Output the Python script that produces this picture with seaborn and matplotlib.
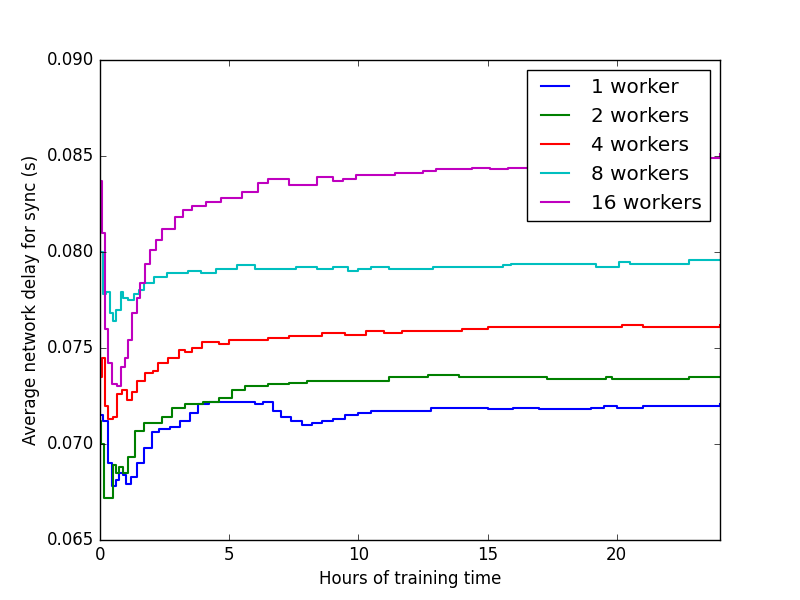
import numpy as np
import pandas as pd
import seaborn as sns
import matplotlib
matplotlib.use("Agg")
import matplotlib.pyplot as plt

# hours of training time vs average network delay
hours_1 = [0, 0.1, 0.3, 0.45, 0.6, 0.75, 0.9, 1.0, 1.2, 1.45, 1.7, 2.0, 2.3, 2.7, 3.1, 3.5, 3.8, 4.2,
           4.7, 5.0, 5.5, 6.0, 6.3, 6.7, 7.0, 7.4, 7.8, 8.2, 8.6, 9.0, 9.5, 10.0, 10.5, 12.0, 12.8,
           14.0, 15.0, 16.0, 17.0, 18.0, 19.0, 19.5, 20.0, 21.0, 22.0, 23.0, 24.0]
delay_1 = [0.0715, 0.0712, 0.0690, 0.0678, 0.0681, 0.0685, 0.0684, 0.0679, 0.0683, 0.0690, 0.0698,
           0.0706, 0.0708, 0.0709, 0.0712, 0.0716, 0.0721, 0.0722, 0.0722, 0.0722, 0.0722, 0.0721,
           0.0722, 0.0717, 0.0714, 0.0712, 0.0710, 0.0711, 0.0712, 0.0713, 0.0715, 0.0716, 0.0717,
           0.0717, 0.0719, 0.0719, 0.0718, 0.0719, 0.0718, 0.0718, 0.0719, 0.0720, 0.0719, 0.0720,
           0.0720, 0.0720, 0.0721]

hours_2 = [0, 0.05, 0.15, 0.3, 0.5, 0.6, 0.75, 0.9, 1.1, 1.35, 1.7, 2.4, 2.8, 3.3, 4.0, 4.6, 5.1,
           5.6, 6.5, 7.3, 8.0, 9.0, 10.0, 11.2, 12.7, 13.9, 15.0, 16.0, 17.3, 19.6, 19.8, 22.8, 24.0]
delay_2 = [0.0712, 0.0700, 0.0672, 0.0672, 0.0689, 0.0685, 0.0688, 0.0685, 0.0693, 0.0707, 0.0711,
           0.0714, 0.0719, 0.0721, 0.0722, 0.0724, 0.0728, 0.0730, 0.0731, 0.0732, 0.0733, 0.0733,
           0.0733, 0.0735, 0.0736, 0.0735, 0.0735, 0.0735, 0.0734, 0.0735, 0.0734, 0.0735, 0.0735]

hours_4 = [0, 0.08, 0.2, 0.3, 0.5, 0.65, 0.85, 1.05, 1.25, 1.45, 1.75, 2.05, 2.25, 2.65, 3.05,
           3.3, 3.55, 3.95, 4.6, 5.0, 6.5, 7.3, 8.6, 9.5, 10.3, 11.0, 11.7, 14.0, 15.0, 20.2, 21.0,
           23.9, 24.0]
delay_4 = [0.0735, 0.0745, 0.0720, 0.0713, 0.0714, 0.0726, 0.0728, 0.0723, 0.0727, 0.0733, 0.0737,
           0.0738, 0.0742, 0.0745, 0.0749, 0.0748, 0.0750, 0.0753, 0.0752, 0.0754, 0.0755, 0.0756,
           0.0758, 0.0757, 0.0759, 0.0758, 0.0759, 0.0760, 0.0761, 0.0762, 0.0761, 0.0761, 0.0762]

hours_8 = [0, 0.1, 0.25, 0.4, 0.5, 0.6, 0.8, 0.9, 1.1, 1.3, 1.5, 1.7, 2.1, 2.6, 3.4, 3.9, 4.5, 5.3,
           6.0, 7.6, 8.4, 9.0, 9.6, 10.0, 10.5, 11.2, 12.9, 15.6, 15.9, 19.2, 19.6, 20.1, 20.5,
           22.8, 24.0]
delay_8 = [0.0800, 0.0778, 0.0779, 0.0768, 0.0764, 0.0770, 0.0779, 0.0776, 0.0775, 0.0778, 0.0780,
           0.0784, 0.0787, 0.0789, 0.0790, 0.0789, 0.0791, 0.0793, 0.0791, 0.0792, 0.0791, 0.0792,
           0.0790, 0.0791, 0.0792, 0.0791, 0.0792, 0.0793, 0.0794, 0.0792, 0.0792, 0.0795, 0.0794,
           0.0796, 0.0796]

hours_16 = [0, 0.08, 0.2, 0.3, 0.45, 0.65, 0.8, 0.95, 1.1, 1.25, 1.45, 1.55, 1.75, 1.95, 2.15,
            2.4, 2.9, 3.2, 3.55, 4.1, 4.7, 5.5, 6.1, 6.5, 7.3, 8.4, 9.0, 9.4, 9.9, 11.4, 12.5,
            13.0, 14.4, 15.1, 15.8, 17.0, 20.0, 22.0, 23.5, 24.0]
delay_16 = [0.0837, 0.0810, 0.0760, 0.0742, 0.0731, 0.0730, 0.0740, 0.0745, 0.0754, 0.0768, 0.0776,
            0.0784, 0.0794, 0.0801, 0.0806, 0.0812, 0.0818, 0.0822, 0.0824, 0.0826, 0.0828, 0.0831,
            0.0836, 0.0838, 0.0835, 0.0839, 0.0837, 0.0838, 0.0840, 0.0841, 0.0842, 0.0843, 0.0844,
            0.0843, 0.0844, 0.0845, 0.0846, 0.0848, 0.0849, 0.0851]

labels = ["1 worker", "2 workers", "4 workers", "8 workers", "16 workers"]
colors = ["b", "g", "r", "c", "m"]
series = [(hours_1, delay_1), (hours_2, delay_2), (hours_4, delay_4),
          (hours_8, delay_8), (hours_16, delay_16)]

plt.style.use("classic")
plt.rcParams["figure.facecolor"] = "white"
plt.rcParams["savefig.facecolor"] = "white"

fig, ax = plt.subplots(figsize=(8, 6), dpi=100)

# running averages update in jumps, so draw them as steps
for (h, d), lab, col in zip(series, labels, colors):
    sns.lineplot(x=h, y=d, color=col, label=lab, linewidth=1.5,
                 drawstyle="steps-post", ax=ax)

ax.set_xlim(0, 24)
ax.set_ylim(0.065, 0.090)
ax.set_xticks([0, 5, 10, 15, 20])
ax.set_yticks(np.arange(0.065, 0.0901, 0.005))
ax.set_yticklabels(["%.3f" % t for t in np.arange(0.065, 0.0901, 0.005)])
ax.set_xlabel("Hours of training time")
ax.set_ylabel("Average network delay for sync (s)")
ax.legend(loc="upper right")

fig.savefig("out.png", dpi=100)
